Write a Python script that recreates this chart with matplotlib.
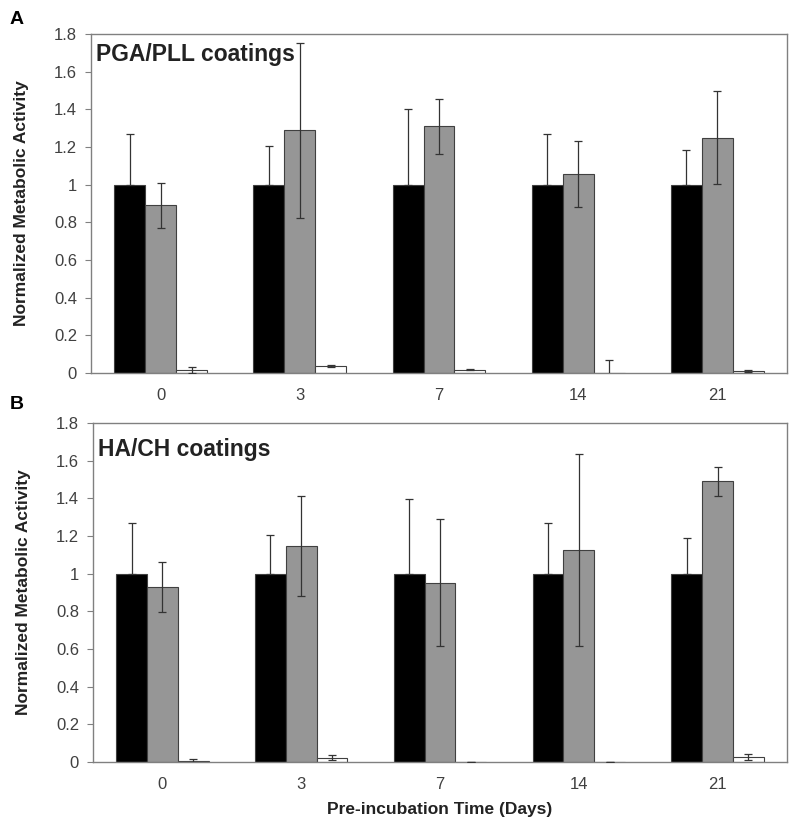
import numpy as np
import matplotlib.pyplot as plt

plt.rcParams['font.family'] = ['Liberation Sans', 'DejaVu Sans']

# Datos
dias = ['0', '3', '7', '14', '21']

# Panel A - PGA/PLL
a_negro = [1.0, 1.0, 1.0, 1.0, 1.0]
a_negro_err = [0.27, 0.205, 0.40, 0.27, 0.185]
a_gris = [0.89, 1.29, 1.31, 1.058, 1.25]
a_gris_err = [0.12, 0.465, 0.145, 0.175, 0.245]
a_blanco = [0.014, 0.035, 0.018, 0.0, 0.012]
a_blanco_err = [0.016, 0.005, 0.003, 0.067, 0.005]

# Panel B - HA/CH
b_negro = [1.0, 1.0, 1.0, 1.0, 1.0]
b_negro_err = [0.27, 0.207, 0.398, 0.27, 0.19]
b_gris = [0.929, 1.147, 0.952, 1.124, 1.49]
b_gris_err = [0.131, 0.265, 0.337, 0.509, 0.078]
b_blanco = [0.003, 0.023, 0.0, 0.0, 0.027]
b_blanco_err = [0.015, 0.013, 0.0, 0.0, 0.017]

gris_txt = '#404040'
borde = '#404040'


def panel(ax, negro, negro_err, gris, gris_err, blanco, blanco_err, titulo, ytit):
    x = np.arange(len(dias))
    w = 0.222
    # la barra negra tapa la mitad inferior del error, así que solo se dibuja hacia arriba
    cero = np.zeros(len(dias))
    series = [(negro, [cero, negro_err], 'black', -w),
              (gris, gris_err, '#969696', 0),
              (blanco, blanco_err, 'white', w)]
    for vals, errs, color, dx in series:
        ax.bar(x + dx, vals, w, color=color, edgecolor=borde, linewidth=0.8, zorder=2)
        ax.errorbar(x + dx, vals, yerr=errs, fmt='none', ecolor='#333333',
                    elinewidth=0.9, capsize=3, capthick=0.9, zorder=3)

    ax.set_xlim(-0.5, 4.5)
    ax.set_ylim(0, 1.8)
    ax.set_xticks(x)
    ax.set_xticklabels(dias)
    ax.set_yticks(np.arange(0, 1.81, 0.2))
    ax.set_yticklabels(['0', '0.2', '0.4', '0.6', '0.8', '1', '1.2', '1.4', '1.6', '1.8'])
    ax.tick_params(axis='x', length=0, pad=11, labelsize=12, labelcolor=gris_txt)
    ax.tick_params(axis='y', length=4, width=0.8, color='#808080', pad=6,
                   labelsize=12, labelcolor=gris_txt)
    for s in ax.spines.values():
        s.set_color('#808080')
        s.set_linewidth(1.0)

    ax.text(0.007, ytit, titulo, transform=ax.transAxes, fontsize=16.5,
            fontweight='bold', color='#222222', va='top', ha='left')
    ax.set_ylabel('Normalized Metabolic Activity', fontsize=12.5,
                  fontweight='bold', color='#222222')
    ax.yaxis.set_label_coords(-0.089, 0.5)


fig = plt.figure(figsize=(8, 8.24), dpi=100)
ax1 = fig.add_axes([0.11375, 0.5473, 0.87, 0.4114])
ax2 = fig.add_axes([0.11625, 0.0752, 0.8675, 0.4114])

panel(ax1, a_negro, a_negro_err, a_gris, a_gris_err, a_blanco, a_blanco_err,
      'PGA/PLL coatings', 0.975)
panel(ax2, b_negro, b_negro_err, b_gris, b_gris_err, b_blanco, b_blanco_err,
      'HA/CH coatings', 0.955)

ax2.set_xlabel('Pre-incubation Time (Days)', fontsize=12.5, fontweight='bold',
               color='#222222', labelpad=7)

fig.text(0.012, 1 - 20 / 824, 'A', fontsize=14, fontweight='bold', va='center')
fig.text(0.012, 1 - 405 / 824, 'B', fontsize=14, fontweight='bold', va='center')

plt.savefig('out.png', dpi=100)
